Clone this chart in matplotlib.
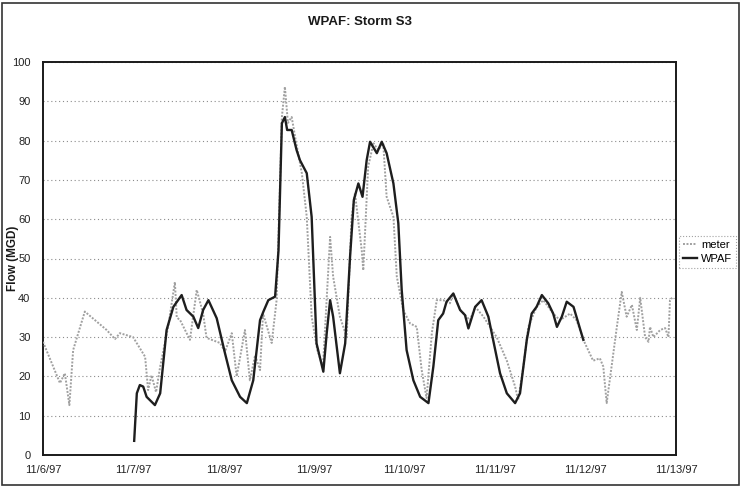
import numpy as np
import matplotlib
matplotlib.use("Agg")
import matplotlib.pyplot as plt
from matplotlib.patches import Rectangle

plt.rcParams['font.family'] = ['Liberation Sans', 'DejaVu Sans']

# hours after 11/6/97 00:00, flow in MGD
meter_hours = [0.0, 4.5, 5.8, 7.0, 8.0, 11.1, 16.9, 19.1, 20.4, 23.9, 27.1, 27.9,
               28.8, 30.0, 31.1, 33.2, 35.0, 35.5, 36.4, 39.0, 40.8, 42.5, 43.4,
               47.0, 48.3, 50.1, 51.4, 53.6, 54.9, 56.3, 57.6, 58.4, 60.7, 62.0,
               62.9, 63.4, 64.2, 65.0, 66.0, 66.9, 68.7, 70.0, 71.3, 72.8, 74.3,
               76.2, 77.0, 78.8, 80.6, 81.9, 82.8, 84.6, 85.0, 86.3, 87.7, 89.0,
               90.3, 91.2, 93.0, 93.9, 95.6, 97.4, 99.2, 100.5, 101.8, 103.2,
               104.5, 106.2, 108.0, 108.9, 110.7, 113.3, 114.7, 116.9, 120.4,
               123.1, 125.3, 126.1, 127.5, 128.8, 131.0, 132.8, 135.4, 137.2,
               139.9, 141.6, 143.8, 146.0, 147.8, 148.7, 149.6, 150.9, 152.3,
               153.6, 154.9, 156.3, 157.6, 158.5, 159.8, 160.7, 161.1, 162.0,
               163.8, 165.1, 166.0, 166.4, 167.0]
meter_flow = [28.8, 18.3, 20.8, 12.7, 26.7, 36.5, 31.8, 29.5, 31.0, 30.0, 25.0, 16.5,
              20.3, 16.0, 22.5, 32.6, 44.0, 35.0, 34.3, 29.3, 42.0, 36.0, 29.8,
              28.5, 26.3, 31.0, 20.0, 31.8, 19.0, 25.4, 21.6, 36.0, 28.5, 39.4,
              69.0, 86.0, 93.7, 84.5, 86.0, 81.0, 71.7, 60.6, 35.2, 26.7, 22.5,
              55.5, 45.4, 35.2, 30.0, 60.6, 66.6, 52.0, 47.0, 73.4, 79.3, 77.6,
              79.3, 65.7, 60.6, 45.4, 36.9, 33.5, 32.6, 21.6, 14.5, 31.0,
              39.4, 39.4, 38.6, 41.0, 37.0, 34.3, 37.7, 35.2, 30.0,
              24.0, 17.4, 14.0, 22.5, 32.6, 37.7, 39.4, 36.0, 34.3,
              36.0, 34.3, 28.5, 24.0, 24.6, 22.5, 13.2, 22.5, 32.6,
              41.5, 35.2, 38.2, 31.8, 40.0, 30.0, 28.8, 32.6, 30.0,
              31.8, 32.3, 30.0, 39.4, 40.0]

wpaf_hours = [24.2, 24.9, 25.7, 26.6, 27.5, 29.7, 31.1, 32.8, 34.6, 36.8, 38.1,
              39.9, 41.2, 42.5, 43.9, 46.1, 48.3, 50.1, 52.3, 54.1, 55.8, 57.6,
              58.5, 59.8, 61.6, 62.5, 63.4, 64.2, 64.8, 66.0, 67.3, 68.2, 70.0,
              71.3, 72.6, 74.4, 75.3, 76.2, 77.0, 78.8, 80.2, 81.5, 82.5, 83.7,
              84.8, 85.9, 86.8, 88.6, 89.9, 91.2, 93.0, 94.3, 95.2, 96.5, 98.3,
              100.1, 102.3, 103.6, 104.9, 106.2, 107.1, 108.9, 110.7, 112.0,
              112.9, 114.7, 116.4, 118.2, 119.1, 121.3, 123.1, 125.3, 126.6,
              128.4, 129.7, 131.0, 132.4, 134.1, 135.4, 136.4, 137.7, 139.0,
              140.8, 142.1, 143.4]
wpaf_flow = [3.6, 15.7, 17.8, 17.4, 14.8, 12.7, 15.7, 31.8, 37.7, 40.7, 36.9,
             35.2, 32.3, 36.9, 39.4, 34.8, 25.9, 19.0, 14.8, 13.2, 19.0, 34.3,
             36.5, 39.4, 40.3, 52.0, 84.4, 86.0, 82.7, 82.7, 77.6, 75.0, 71.7,
             60.6, 28.4, 21.2, 31.0, 39.4, 35.2, 20.8, 28.4, 50.5, 64.9, 69.1,
             65.7, 75.0, 79.7, 76.8, 79.7, 76.8, 69.1, 59.0, 42.0, 26.7, 19.0,
             14.8, 13.2, 22.5, 34.3, 36.0, 39.0, 41.1, 36.9, 35.6,
             32.2, 37.7, 39.4, 35.2, 31.0, 20.8, 15.7, 13.2, 15.7,
             29.3, 36.0, 37.7, 40.7, 38.6, 36.0, 32.6, 35.2, 39.0,
             37.7, 33.5, 29.3]

day_labels = ['11/6/97', '11/7/97', '11/8/97', '11/9/97', '11/10/97',
              '11/11/97', '11/12/97', '11/13/97']

W, H = 742, 487
fig = plt.figure(figsize=(W / 100, H / 100), dpi=100)
ax = fig.add_axes([43 / W, 32 / H, 633 / W, 393 / H])

meter_days = np.array(meter_hours) / 24.0
wpaf_days = np.array(wpaf_hours) / 24.0

ax.plot(meter_days, meter_flow, color='#a0a0a0', lw=1.4, ls=(0, (1, 0.8)),
        label='meter', zorder=3)
ax.plot(wpaf_days, wpaf_flow, color='#1e1e1e', lw=1.7, label='WPAF', zorder=4)

ax.set_xlim(0, 7)
ax.set_ylim(0, 100)
ax.set_xticks(range(len(day_labels)))
ax.set_xticklabels(day_labels)
ax.set_yticks(range(0, 101, 10))
ax.tick_params(axis='both', labelsize=8, length=0, colors='#222222')
ax.tick_params(axis='y', pad=9)
ax.tick_params(axis='x', pad=7)

ax.yaxis.grid(True, color='#8c8c8c', ls=(0, (1, 2.5)), lw=0.8)
ax.set_axisbelow(True)
for side in ['left', 'bottom', 'top', 'right']:
    ax.spines[side].set_color('#1a1a1a')
    ax.spines[side].set_linewidth(1.4)

fig.text((43 + 676) / 2 / W, 1 - 22 / H, 'WPAF: Storm S3', ha='center',
         va='center', fontsize=9.5, fontweight='bold', color='#1a1a1a')
fig.text(13 / W, 32 / H + 393 / H / 2, 'Flow (MGD)', rotation=90, ha='center',
         va='center', fontsize=8.5, fontweight='bold', color='#1a1a1a')

leg = fig.legend(loc='center left', bbox_to_anchor=(679 / W, 1 - 252 / H),
                 fontsize=8, frameon=True, fancybox=False, handlelength=1.3,
                 handletextpad=0.35, borderpad=0.35, labelspacing=0.3,
                 borderaxespad=0)
leg.get_frame().set_edgecolor('#8c8c8c')
leg.get_frame().set_linestyle(':')
leg.get_frame().set_linewidth(0.8)

# outer chart border
fig.patches.append(Rectangle((2 / W, 2 / H), 737 / W, 482 / H, transform=fig.transFigure,
                             fill=False, edgecolor='#333333', lw=1.2))

fig.savefig('out.png', dpi=100)
